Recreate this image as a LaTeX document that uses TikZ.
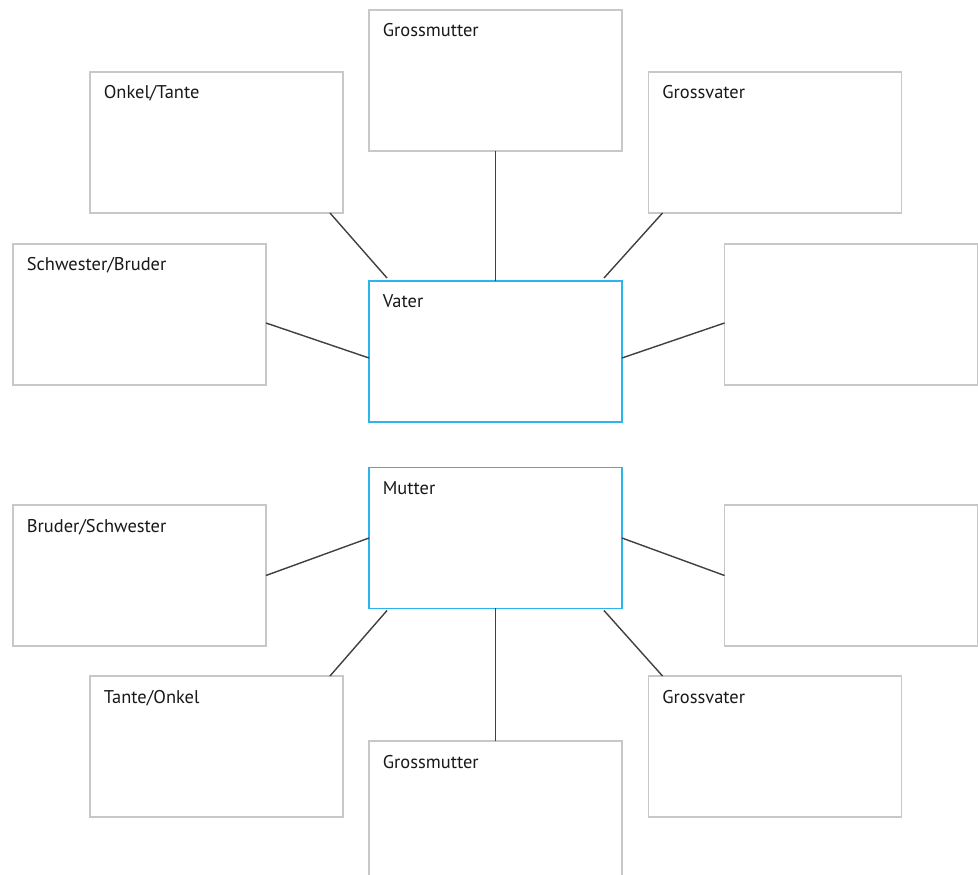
\documentclass[tikz,border=0pt]{standalone}
\usepackage{fontspec}
\setmainfont{PT Sans}
\usepackage{tikz}
\usetikzlibrary{positioning}

\definecolor{boxgray}{HTML}{C8C8C8}
\definecolor{linegray}{HTML}{404040}
\definecolor{centerblue}{HTML}{2BB5EA}
\definecolor{textdark}{HTML}{1A1718}

\begin{document}
\begin{tikzpicture}[
    x = 0.02cm, y = -0.02cm,
    relbox/.style = {
      rectangle, draw = boxgray, line width = 0.8pt, minimum width = 5.06cm,
      minimum height = 2.82cm, inner sep = 0pt, outer sep = 0pt,
      label = {[anchor = north west, inner sep = 0pt, xshift = 0.27cm,
        yshift = -0.27cm, font = \fontsize{10.5}{12}\selectfont,
        text = textdark] north west:#1}
    },
    relbox/.default = {},
    centerbox/.style = {relbox = #1, draw = centerblue},
    link/.style = {draw = linegray, line width = 0.8pt}
  ]
  \useasboundingbox (0,0) rectangle (978,875);
  \clip (0,0) rectangle (978,875);

  \node [relbox = Grossmutter]      (gm-top)  at (495.5, 80.5)  {};
  \node [relbox = Onkel/Tante]      (onkel)   at (216.5, 142.5) {};
  \node [relbox = Grossvater]       (gv-top)  at (775, 142.5)   {};
  \node [relbox = Schwester/Bruder] (schw)    at (139.5, 314.5) {};
  \node [relbox]                    (free-top) at (851, 314.5)  {};
  \node [centerbox = Vater]         (vater)   at (495.5, 351.5) {};

  \node [centerbox = Mutter]        (mutter)  at (495.5, 538)   {};
  \node [relbox = Bruder/Schwester] (bruder)  at (139.5, 575.5) {};
  \node [relbox]                    (free-bot) at (851, 575.5)  {};
  \node [relbox = Tante/Onkel]      (tante)   at (216.5, 746.5) {};
  \node [relbox = Grossvater]       (gv-bot)  at (775, 746.5)   {};
  \node [relbox = Grossmutter]      (gm-bot)  at (495.5, 811.5) {};

  \draw [link] (gm-top.south) -- (vater.north);
  \draw [link] ([xshift = -0.26cm] onkel.south east)
    -- ([xshift = 0.36cm, yshift = 0.06cm] vater.north west);
  \draw [link] ([xshift = 0.28cm] gv-top.south west)
    -- ([xshift = -0.36cm, yshift = 0.06cm] vater.north east);
  \draw [link] ([yshift = -0.17cm] schw.east)
    -- ([yshift = -0.13cm] vater.west);
  \draw [link] ([yshift = -0.17cm] free-top.west)
    -- ([yshift = -0.13cm] vater.east);

  \draw [link] (mutter.west) -- (bruder.east);
  \draw [link] (mutter.east) -- (free-bot.west);
  \draw [link] ([xshift = 0.36cm, yshift = -0.04cm] mutter.south west)
    -- ([xshift = -0.26cm] tante.north east);
  \draw [link] (mutter.south) -- (gm-bot.north);
  \draw [link] ([xshift = -0.36cm, yshift = -0.04cm] mutter.south east)
    -- ([xshift = 0.28cm] gv-bot.north west);
\end{tikzpicture}
\end{document}
